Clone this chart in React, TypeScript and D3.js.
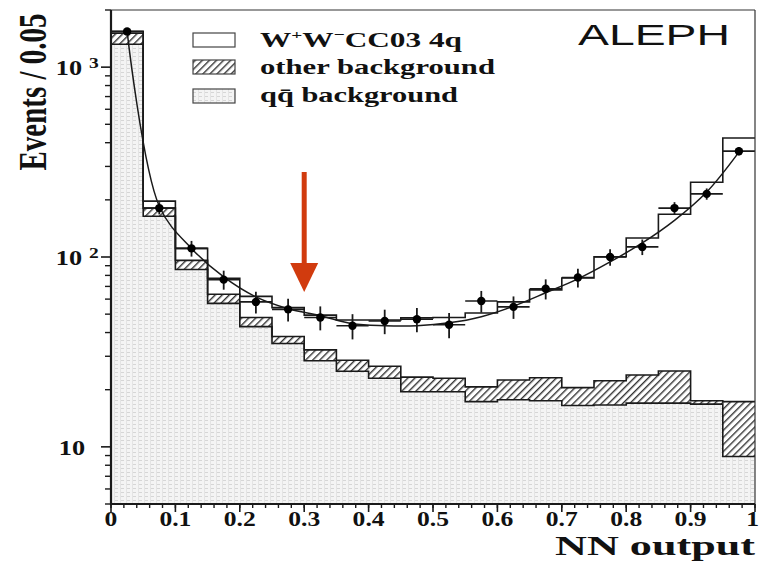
import React from 'react';
import * as d3 from 'd3';

// ---- data ----
const binCenters = [0.025, 0.075, 0.125, 0.175, 0.225, 0.275, 0.325, 0.375, 0.425, 0.475,
  0.525, 0.575, 0.625, 0.675, 0.725, 0.775, 0.825, 0.875, 0.925, 0.975];
const binWidth = 0.05;
const qqBackground = [1320, 164, 86, 57, 43, 35, 28.4, 25, 23, 19.5, 19.5, 17.3, 17.7, 17.5, 16.5, 16.6, 17, 17, 16.8, 8.9];
const otherBackground = [190, 17, 10, 6.6, 5, 3.1, 4, 3.6, 3.6, 3.8, 3.5, 3.4, 4.8, 5.6, 4, 5.7, 6.9, 8.1, 0.7, 8.4];
const wwSignal = [36, 16, 15, 13.6, 14, 16, 17, 18, 20, 24.5, 25, 30, 35.5, 44, 57, 78, 102, 143, 230, 406];
const dataEvents = [1540, 181, 111, 76, 58, 53, 48, 43.4, 46, 47, 44, 58.6, 54.6, 68, 78, 100, 113, 181, 215, 361];
const fitCurve = [1547, 185, 111, 78.5, 61.6, 53.4, 49.1, 44.5, 43.5, 43.5, 45, 48.5, 55.1, 64.8, 76.7, 94.2, 118.6, 156, 220, 357];
const xTickValues = [0, 0.1, 0.2, 0.3, 0.4, 0.5, 0.6, 0.7, 0.8, 0.9, 1];
const xTickLabels = ['0', '0.1', '0.2', '0.3', '0.4', '0.5', '0.6', '0.7', '0.8', '0.9', '1'];
const yTickValues = [1000, 100, 10];
const yTickExponents = ['3', '2', ''];
const cutValue = 0.3;

const W = 760, H = 561;
const x = d3.scaleLinear().domain([0, 1]).range([111, 755]);
const y = d3.scaleLog().domain([5, 2000]).range([504, 10]);
const serif = "'Liberation Serif', 'Times New Roman', serif";
const sans = "'Liberation Sans', Arial, sans-serif";

const otherTop = qqBackground.map((v, i) => v + otherBackground[i]);
const totalTop = otherTop.map((v, i) => v + wwSignal[i]);

function stepPts(vals: number[]): [number, number][] {
  const pts: [number, number][] = [];
  vals.forEach((v, i) => {
    pts.push([binCenters[i] - binWidth / 2, v]);
    pts.push([binCenters[i] + binWidth / 2, v]);
  });
  return pts;
}

const area = d3.area<[number, number]>().x(d => x(d[0])).y0(y(5)).y1(d => y(d[1]));
const line = d3.line<[number, number]>().x(d => x(d[0])).y(d => y(d[1]));
const fitLine = d3.line<[number, number]>().x(d => x(d[0])).y(d => y(d[1])).curve(d3.curveCatmullRom.alpha(0.5));

export default function App() {
  const minorX = d3.range(0, 50.5, 1).map(k => k * 0.02).filter(v => v <= 1.0001);
  const minorY: number[] = [];
  [1, 10, 100, 1000].forEach(dec => {
    for (let m = 2; m <= 9; m++) {
      const v = dec * m;
      if (v >= 5 && v <= 2000) minorY.push(v);
    }
  });
  const ink = '#1a1a1a';
  return (
    <svg width={W} height={H} style={{ position: 'absolute', left: 0, top: 0, background: '#fff' }}>
      <defs>
        <pattern id="hatch" width="5" height="5" patternUnits="userSpaceOnUse" patternTransform="rotate(45)">
          <rect width="5" height="5" fill="#fff" />
          <line x1="0.7" y1="0" x2="0.7" y2="5" stroke="#333" strokeWidth="1.4" />
        </pattern>
        <pattern id="dots" width="6" height="4" patternUnits="userSpaceOnUse">
          <rect width="6" height="4" fill="#f4f4f4" />
          <line x1="0" y1="0.5" x2="4" y2="0.5" stroke="#d6d6d6" strokeWidth="1" />
          <line x1="0.5" y1="0" x2="0.5" y2="4" stroke="#e4e4e4" strokeWidth="1" />
        </pattern>
      </defs>
      <rect width={W} height={H} fill="#fff" />

      {/* stacked histograms */}
      <path d={area(stepPts(otherTop)) || ''} fill="url(#hatch)" />
      <path d={area(stepPts(qqBackground)) || ''} fill="url(#dots)" />
      <path d={line(stepPts(totalTop)) || ''} fill="none" stroke={ink} strokeWidth={1.6} />
      <path d={line(stepPts(otherTop)) || ''} fill="none" stroke={ink} strokeWidth={1.6} />
      <path d={line(stepPts(qqBackground)) || ''} fill="none" stroke={ink} strokeWidth={1.6} />

      {/* fit curve */}
      <path d={fitLine(binCenters.map((c, i) => [c, fitCurve[i]] as [number, number])) || ''}
        fill="none" stroke={ink} strokeWidth={1.5} />

      {/* data points */}
      {dataEvents.map((v, i) => {
        const c = binCenters[i];
        const e = Math.sqrt(v);
        return (
          <g key={'d' + i}>
            <line x1={x(c - binWidth / 2)} x2={x(c + binWidth / 2)} y1={y(v)} y2={y(v)} stroke={ink} strokeWidth={1.6} />
            <line x1={x(c)} x2={x(c)} y1={y(v + e)} y2={y(v - e)} stroke={ink} strokeWidth={1.8} />
            <circle cx={x(c)} cy={y(v)} r={4.2} fill="#000" />
          </g>
        );
      })}

      {/* frame */}
      <line x1={x(0)} x2={x(1)} y1={y(2000)} y2={y(2000)} stroke="#333" strokeWidth={1.2} />
      <line x1={x(1)} x2={x(1)} y1={y(2000)} y2={y(5)} stroke="#333" strokeWidth={1.2} />
      <line x1={x(0)} x2={x(0)} y1={y(2000)} y2={y(5) + 1} stroke={ink} strokeWidth={2.2} />
      <line x1={x(0)} x2={x(1)} y1={y(5)} y2={y(5)} stroke={ink} strokeWidth={2.2} />

      {/* x ticks */}
      {minorX.map((v, i) => (
        <line key={'mx' + i} x1={x(v)} x2={x(v)} y1={y(5)} y2={y(5) + 4} stroke={ink} strokeWidth={1.4} />
      ))}
      {xTickValues.map((v, i) => (
        <g key={'tx' + i}>
          <line x1={x(v)} x2={x(v)} y1={y(5)} y2={y(5) + 8} stroke={ink} strokeWidth={1.6} />
          <text transform={`translate(${v === 1 ? 759 : x(v)},526) scale(1.28,1)`} textAnchor={v === 1 ? 'end' : 'middle'}
            fontFamily={serif} fontWeight="bold" fontSize={20} fill="#111">{xTickLabels[i]}</text>
        </g>
      ))}

      {/* y ticks */}
      {minorY.map((v, i) => (
        <line key={'my' + i} x1={x(0) - 6} x2={x(0)} y1={y(v)} y2={y(v)} stroke={ink} strokeWidth={1.4} />
      ))}
      {yTickValues.map((v, i) => (
        <g key={'ty' + i}>
          <line x1={x(0) - 10} x2={x(0)} y1={y(v)} y2={y(v)} stroke={ink} strokeWidth={1.6} />
          <text transform={`translate(${yTickExponents[i] ? 82 : 85},${y(v) + 8}) scale(1.25,1)`} textAnchor="end"
            fontFamily={serif} fontWeight="bold" fontSize={21} fill="#111">10</text>
          {yTickExponents[i] && (
            <text transform={`translate(89,${y(v) + 1}) scale(1.3,1)`} textAnchor="start"
              fontFamily={serif} fontWeight="bold" fontSize={15} fill="#111">{yTickExponents[i]}</text>
          )}
        </g>
      ))}

      {/* axis titles */}
      <text x={755} y={555} textAnchor="end" fontFamily={serif} fontWeight="bold" fontSize={27.5}
        textLength={200} lengthAdjust="spacingAndGlyphs" fill="#111">NN output</text>
      <text transform="translate(46,92) rotate(-90) scale(1,1.3)" textAnchor="middle" fontFamily={serif}
        fontWeight="bold" fontSize={30} textLength={157} lengthAdjust="spacingAndGlyphs" fill="#111">Events / 0.05</text>

      {/* ALEPH */}
      <text x={578} y={45} fontFamily={sans} fontSize={30} textLength={152} lengthAdjust="spacingAndGlyphs" fill="#111">ALEPH</text>

      {/* legend */}
      <rect x={193} y={33} width={42} height={14} fill="#fff" stroke="#444" strokeWidth={1.2} />
      <rect x={193} y={60} width={42} height={14} fill="url(#hatch)" stroke="#444" strokeWidth={1.2} />
      <rect x={193} y={89} width={42} height={14} fill="url(#dots)" stroke="#444" strokeWidth={1.2} />
      <text x={260} y={47} fontFamily={serif} fontWeight="bold" fontSize={21} textLength={202}
        lengthAdjust="spacingAndGlyphs" fill="#111">
        W<tspan dy={-8} fontSize={13}>+</tspan><tspan dy={8}>W</tspan><tspan dy={-8} fontSize={13}>−</tspan><tspan dy={8}>CC03 4q</tspan>
      </text>
      <text x={260} y={74} fontFamily={serif} fontWeight="bold" fontSize={21} textLength={235}
        lengthAdjust="spacingAndGlyphs" fill="#111">other background</text>
      <text x={260} y={102} fontFamily={serif} fontWeight="bold" fontSize={21} textLength={198}
        lengthAdjust="spacingAndGlyphs" fill="#111">{'qq\u0304 background'}</text>

      {/* cut arrow */}
      <line x1={x(cutValue)} x2={x(cutValue)} y1={172} y2={266} stroke="#d13b0e" strokeWidth={5} />
      <polygon points={`${x(cutValue) - 14},263 ${x(cutValue) + 14},263 ${x(cutValue)},292`} fill="#d13b0e" />
    </svg>
  );
}
